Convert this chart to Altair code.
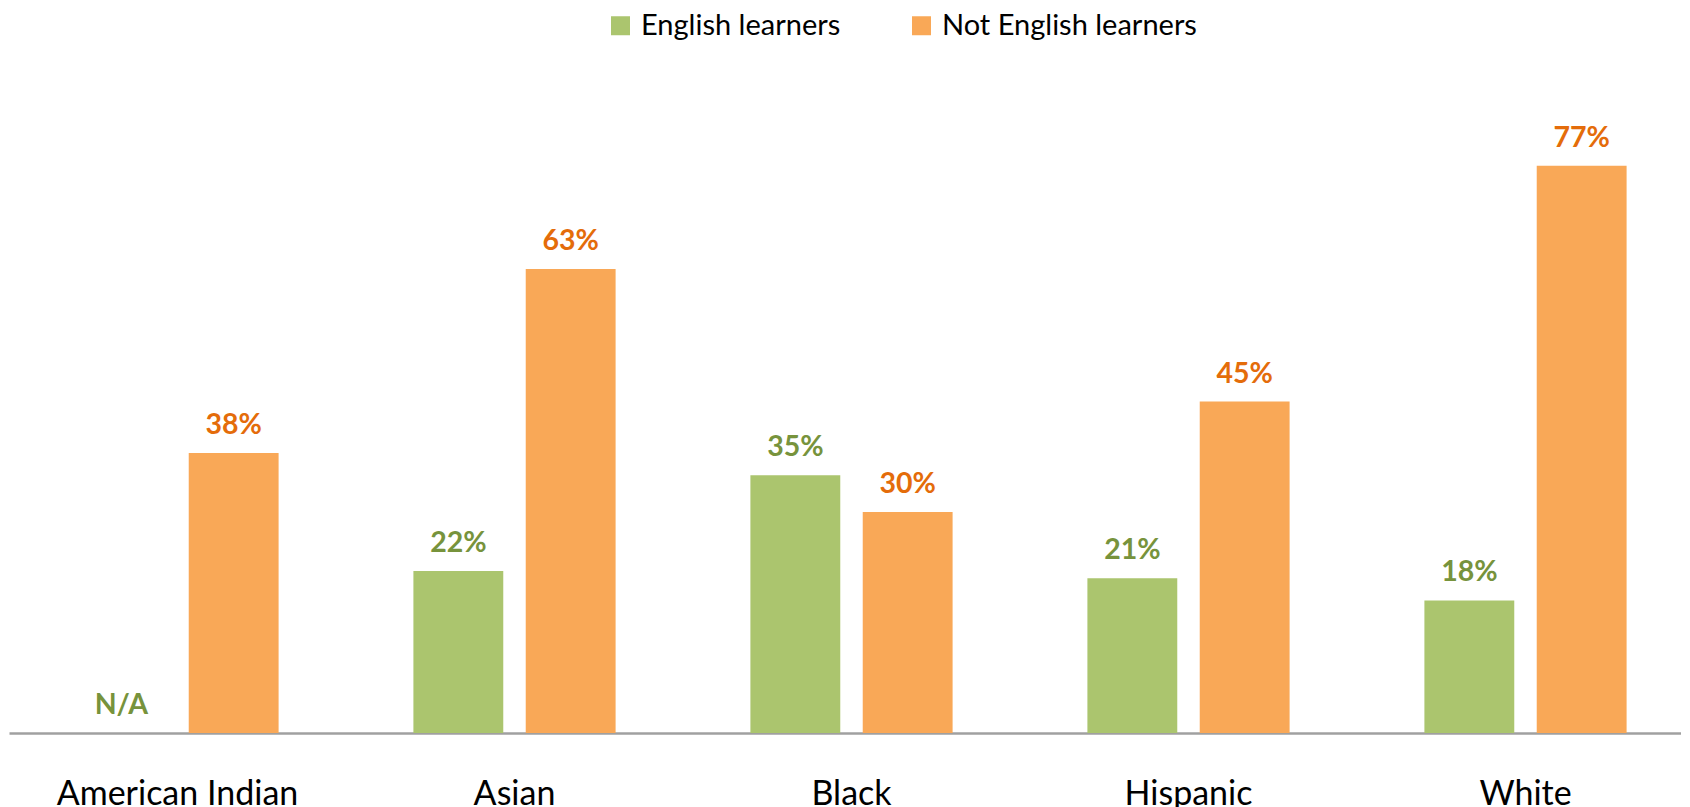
import altair as alt
import pandas as pd

categories = ["American Indian", "Asian", "Black", "Hispanic", "White"]
english_learners = [None, 22, 35, 21, 18]
not_english_learners = [38, 63, 30, 45, 77]
series = ["English learners", "Not English learners"]
bar_colors = ["#ABC56E", "#F9A857"]
label_colors = ["#77933C", "#E46C0A"]

rows = []
for i, c in enumerate(categories):
    for s, vals, lc in [(series[0], english_learners, label_colors[0]),
                        (series[1], not_english_learners, label_colors[1])]:
        v = vals[i]
        rows.append({
            "category": c,
            "series": s,
            "value": v if v is not None else 0,
            "has": v is not None,
            "label": f"{v}%" if v is not None else "N/A",
            "lcolor": lc,
        })
df = pd.DataFrame(rows)

FONT = "Lato"

x = alt.X("category:N", sort=categories, title=None,
          scale=alt.Scale(range=[0, 1685], paddingInner=0, paddingOuter=0),
          axis=alt.Axis(labelAngle=0, ticks=False, domainColor="#A0A0A0",
                        domainWidth=2.5, labelFontSize=34, labelFont=FONT,
                        labelColor="#000000", labelPadding=44, labelBaseline="top",
                        labelLimit=500))
xo = alt.XOffset("series:N", sort=series,
                 scale=alt.Scale(paddingInner=0.2, paddingOuter=0.6))
y = alt.Y("value:Q", scale=alt.Scale(domain=[0, 90], nice=False), axis=None)

bars = alt.Chart(df).transform_filter("datum.has").mark_bar().encode(
    x=x, xOffset=xo, y=y,
    color=alt.Color("series:N", sort=series,
                    scale=alt.Scale(domain=series, range=bar_colors),
                    legend=alt.Legend(title=None, orient="none", direction="horizontal",
                                      legendX=597, legendY=-59, symbolType="square",
                                      symbolSize=361, symbolStrokeWidth=0,
                                      labelFontSize=29, labelFont=FONT, labelColor="#000000",
                                      columnPadding=66, labelOffset=6, labelLimit=400)),
)

texts = alt.Chart(df).mark_text(baseline="alphabetic", dy=-19, fontSize=28.5,
                                fontWeight="bold", font=FONT).encode(
    x=x, xOffset=xo, y=y,
    text="label:N",
    color=alt.Color("lcolor:N", scale=None),
)

chart = alt.layer(bars, texts).properties(
    width=1672, height=663,
    padding={"left": 1, "top": 62, "right": 0, "bottom": 100},
    autosize=alt.AutoSizeParams(type="none"),
).configure_view(stroke=None)

chart.save("out.html", embed_options={"renderer": "svg", "actions": False})
